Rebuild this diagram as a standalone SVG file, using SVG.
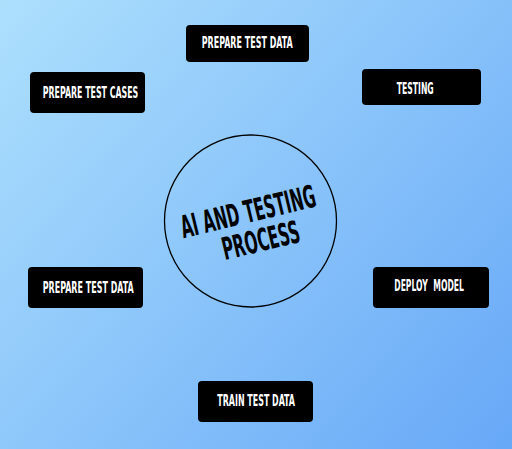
<svg xmlns="http://www.w3.org/2000/svg" width="512" height="449" viewBox="0 0 512 449">
  <defs>
    <linearGradient id="bg" gradientUnits="userSpaceOnUse" x1="0" y1="0" x2="512" y2="449">
      <stop offset="0" stop-color="#ade0fd"/>
      <stop offset="1" stop-color="#67a8f7"/>
    </linearGradient>
  </defs>
  <style>
    .box { fill: #000000; }
    .lbl { fill: #ffffff; font-family: "Liberation Sans Narrow", "DejaVu Sans Condensed", "Liberation Sans", sans-serif; font-weight: bold; font-size: 16px; }
    .title { fill: #000000; font-family: "Liberation Sans Narrow", "DejaVu Sans Condensed", "Liberation Sans", sans-serif; font-weight: bold; font-size: 31px; text-anchor: middle; }
  </style>
  <rect x="0" y="0" width="512" height="449" fill="url(#bg)"/>

  <g id="connectors"></g>

  <g id="center">
    <circle cx="250.5" cy="221" r="86" fill="none" stroke="#000000" stroke-width="1.3"/>
    <g transform="rotate(-13.5 250.5 222.2)">
      <text class="title" x="250.5" y="222.2" textLength="138" lengthAdjust="spacingAndGlyphs">AI AND TESTING</text>
      <text class="title" x="256.3" y="253" textLength="79" lengthAdjust="spacingAndGlyphs">PROCESS</text>
    </g>
  </g>

  <g id="prepare-test-data-top">
    <rect class="box" x="186" y="25" width="123" height="37" rx="4"/>
    <text class="lbl" x="201.7" y="48.3" textLength="91" lengthAdjust="spacingAndGlyphs">PREPARE TEST DATA</text>
  </g>

  <g id="prepare-test-cases">
    <rect class="box" x="30" y="72" width="115" height="41" rx="4"/>
    <text class="lbl" x="42.7" y="98.3" textLength="95.6" lengthAdjust="spacingAndGlyphs">PREPARE TEST CASES</text>
  </g>

  <g id="testing">
    <rect class="box" x="362" y="69" width="119" height="36" rx="4"/>
    <text class="lbl" x="396.7" y="94.3" textLength="37" lengthAdjust="spacingAndGlyphs">TESTING</text>
  </g>

  <g id="prepare-test-data-left">
    <rect class="box" x="28" y="267" width="115" height="41" rx="4"/>
    <text class="lbl" x="42.7" y="293.3" textLength="91" lengthAdjust="spacingAndGlyphs">PREPARE TEST DATA</text>
  </g>

  <g id="deploy-model">
    <rect class="box" x="373" y="267" width="116" height="41" rx="4"/>
    <text class="lbl" x="394.3" y="290.5" textLength="33.4" lengthAdjust="spacingAndGlyphs">DEPLOY</text>
    <text class="lbl" x="433.3" y="290.5" textLength="30.7" lengthAdjust="spacingAndGlyphs">MODEL</text>
  </g>

  <g id="train-test-data">
    <rect class="box" x="198" y="381" width="115" height="41" rx="4"/>
    <text class="lbl" x="217.3" y="406" textLength="77.7" lengthAdjust="spacingAndGlyphs">TRAIN TEST DATA</text>
  </g>
</svg>
